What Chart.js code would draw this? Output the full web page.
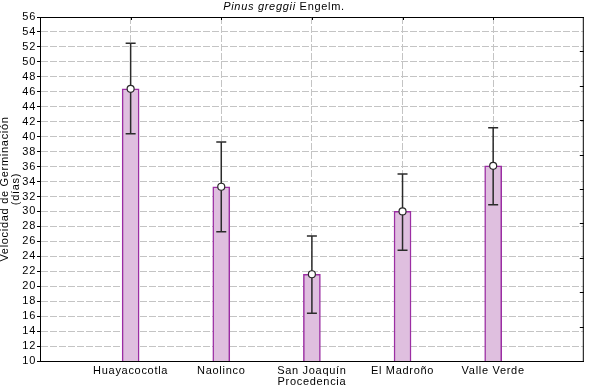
<!DOCTYPE html>
<html>
<head>
<meta charset="utf-8">
<script src="https://cdn.jsdelivr.net/npm/chart.js@4"></script>
<style>
  html, body { margin: 0; padding: 0; background: #fff; }
  #wrap { width: 589px; height: 387px; }
</style>
</head>
<body>
<div id="wrap"><canvas id="germChart" width="589" height="387"></canvas></div>
<script>
// data block
const procedencias = ['Huayacocotla', 'Naolinco', 'San Joaquín', 'El Madroño', 'Valle Verde'];
const medias = [46.4, 33.3, 21.6, 30.0, 36.1];
const errInf = [40.4, 27.3, 16.4, 24.8, 30.9];
const errSup = [52.5, 39.3, 26.7, 35.0, 41.2];
const yTicks = [10, 12, 14, 16, 18, 20, 22, 24, 26, 28, 30, 32, 34, 36, 38, 40, 42, 44, 46, 48, 50, 52, 54, 56];

const FONT = { family: '"Liberation Sans", Arial, sans-serif', size: 11 };
const points = medias.map((v, i) => ({ x: i + 1, y: v }));

// the original text is a bit loosely spaced
const spacing = {
	id: 'spacing',
	beforeLayout(chart) { chart.ctx.letterSpacing = '0.7px'; },
	beforeDraw(chart) { chart.ctx.letterSpacing = '0.7px'; },
};

// error bars, drawn right after the bars so the mean markers land on top
const errorBars = {
	id: 'errorBars',
	afterDatasetDraw(chart, args) {
		if (args.index !== 0) return;
		const { ctx, scales: { x, y } } = chart;
		ctx.save();
		ctx.strokeStyle = '#2b2b2b';
		ctx.lineWidth = 1.5;
		procedencias.forEach((p, i) => {
			const px = x.getPixelForValue(i + 1);
			const top = y.getPixelForValue(errSup[i]);
			const bot = y.getPixelForValue(errInf[i]);
			ctx.beginPath();
			ctx.moveTo(px, top); ctx.lineTo(px, bot);
			ctx.moveTo(px - 5, top); ctx.lineTo(px + 5, top);
			ctx.moveTo(px - 5, bot); ctx.lineTo(px + 5, bot);
			ctx.stroke();
		});
		ctx.restore();
	},
};

// frame, inward ticks and the mixed italic title
const frame = {
	id: 'frame',
	afterDraw(chart) {
		const { ctx, chartArea: a, scales: { x, y2 } } = chart;
		ctx.save();
		ctx.strokeStyle = '#000';
		ctx.lineWidth = 1;
		ctx.beginPath();
		ctx.moveTo(a.left, a.top + 0.5); ctx.lineTo(a.right, a.top + 0.5);
		ctx.moveTo(a.right - 0.5, a.top); ctx.lineTo(a.right - 0.5, a.bottom);
		y2.ticks.forEach((t) => {
			const py = Math.round(y2.getPixelForValue(t.value)) + 0.5;
			ctx.moveTo(a.right, py); ctx.lineTo(a.right - 4, py);
		});
		x.ticks.forEach((t) => {
			const px = Math.round(x.getPixelForValue(t.value)) + 0.5;
			ctx.moveTo(px, a.top); ctx.lineTo(px, a.top + 3);
		});
		ctx.stroke();

		ctx.fillStyle = '#000';
		ctx.textBaseline = 'middle';
		const ital = 'italic 11px "Liberation Sans", Arial, sans-serif';
		const norm = '11px "Liberation Sans", Arial, sans-serif';
		const t1 = 'Pinus greggii', t2 = ' Engelm.';
		ctx.font = ital; const w1 = ctx.measureText(t1).width;
		ctx.font = norm; const w2 = ctx.measureText(t2).width;
		let sx = 284 - (w1 + w2) / 2;
		ctx.font = ital; ctx.fillText(t1, sx, 7);
		ctx.font = norm; ctx.fillText(t2, sx + w1, 7);
		ctx.restore();
	},
};

const config = {
	data: {
		datasets: [
			{
				type: 'bar',
				data: points,
				backgroundColor: '#dfbfdf',
				borderColor: '#9b2ea3',
				borderWidth: 1.5,
				barThickness: 17,
				order: 2,
			},
			{
				type: 'scatter',
				data: points,
				pointRadius: 3.5,
				pointBackgroundColor: '#fff',
				pointBorderColor: '#2b2b2b',
				pointBorderWidth: 1.2,
				order: 1,
			},
		],
	},
	options: {
		responsive: false,
		animation: false,
		layout: { padding: { top: 17, right: 2, left: 0, bottom: 0 } },
		plugins: { legend: { display: false }, tooltip: { enabled: false } },
		scales: {
			x: {
				type: 'linear',
				min: 0,
				max: 6,
				offset: false,
				afterBuildTicks: (s) => { s.ticks = procedencias.map((p, i) => ({ value: i + 1 })); },
				afterFit: (s) => { s.height = 26; },
				ticks: {
					color: '#000',
					font: FONT,
					padding: 3,
					maxRotation: 0,
					autoSkip: false,
					callback: (v) => procedencias[v - 1] || '',
				},
				grid: { color: '#c4c4c4', drawTicks: false, offset: false },
				border: { display: true, color: '#000', width: 1, dash: [7, 2] },
				title: {
					display: true,
					text: 'Procedencia',
					color: '#000',
					font: { ...FONT, lineHeight: 0.9 },
					padding: { top: 0, bottom: 0 },
				},
			},
			y: {
				min: 10,
				max: 56,
				afterBuildTicks: (s) => { s.ticks = yTicks.map((v) => ({ value: v })); },
				afterFit: (s) => { s.width = 40; },
				ticks: { color: '#000', font: FONT, padding: 1, autoSkip: false },
				grid: { color: '#c4c4c4', tickColor: '#000', tickLength: 3, tickBorderDash: [] },
				border: { display: true, color: '#000', width: 1, dash: [7, 2] },
				title: {
					display: true,
					text: ['Velocidad de Germinación', '(días)'],
					color: '#000',
					font: { ...FONT, lineHeight: 0.95 },
					padding: { top: 0, bottom: 0 },
				},
			},
			y2: {
				position: 'right',
				min: 0,
				max: 10,
				ticks: { display: false, stepSize: 1 },
				grid: { display: false },
				border: { display: false },
				afterFit: (s) => { s.width = 0; },
			},
		},
	},
	plugins: [spacing, errorBars, frame],
};

const germChart = new Chart(document.getElementById('germChart'), config);
</script>
</body>
</html>
